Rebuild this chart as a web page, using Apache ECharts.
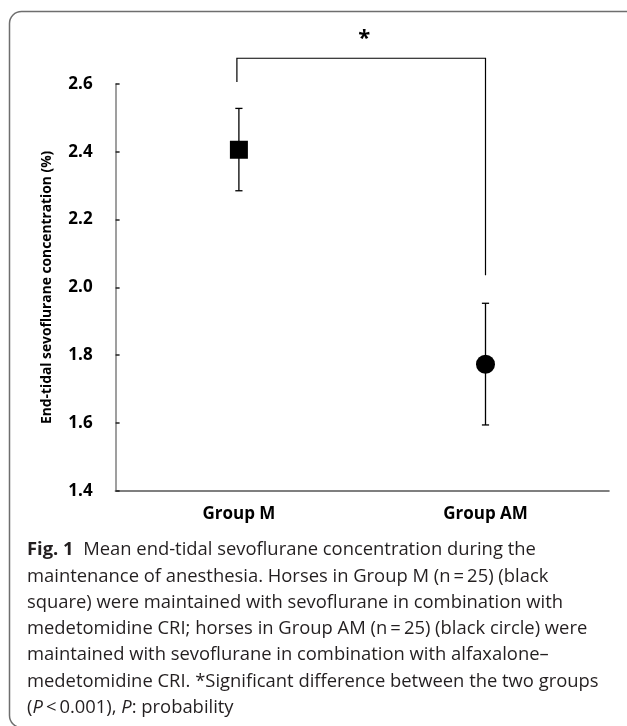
<!DOCTYPE html>
<html><head><meta charset="utf-8">
<script src="https://cdn.jsdelivr.net/npm/echarts@6/dist/echarts.min.js"></script>
<style>html,body{margin:0;padding:0;background:#fff}#c{width:627px;height:726px}</style>
</head><body><div id="c"></div>
<script>
// ---- data ----
const categories = ['Group M', 'Group AM'];
const means = [2.406, 1.773];
const upper = [2.528, 1.953];
const lower = [2.285, 1.594];
const markerShapes = ['rect', 'circle'];
const yMin = 1.4, yMax = 2.6, yStep = 0.2;
// significance bracket: [left foot, top bar, right foot], asterisk level
const bracketValues = [2.606, 2.676, 2.036];
const starValue = 2.745;
const yAxisTitle = 'End-tidal sevoflurane concentration (%)';
const captionLines = [
  '{b|Fig. 1}  Mean end-tidal sevoflurane concentration during the',
  'maintenance of anesthesia. Horses in Group M (n\u2009=\u200925) (black',
  'square) were maintained with sevoflurane in combination with',
  'medetomidine CRI; horses in Group AM (n\u2009=\u200925) (black circle) were',
  'maintained with sevoflurane in combination with alfaxalone\u2013',
  'medetomidine CRI. *Significant difference between the two groups',
  '({i|P}\u2009<\u20090.001), {i|P}: probability'
];

// ---- chart ----
const chart = echarts.init(document.getElementById('c'), null, {renderer: 'canvas'});
const capTop = 550, capStep = 26.3, capSize = 18.4;
const graphics = [{
  type: 'rect', z: 0, silent: true,
  shape: {x: 9.5, y: 11.5, width: 660, height: 716, r: 12},
  style: {fill: 'none', stroke: '#6e6e6e', lineWidth: 1.5}
}];
captionLines.forEach((t, i) => {
  graphics.push({
    type: 'text', x: 27, y: capTop + i * capStep, silent: true,
    style: {
      text: t, font: capSize + 'px "Open Sans"', fill: '#231f20',
      align: 'left', verticalAlign: 'middle',
      rich: {
        b: {fontWeight: 'bold', fontSize: capSize, fontFamily: 'Open Sans', fill: '#231f20'},
        i: {fontStyle: 'italic', fontSize: capSize, fontFamily: 'Open Sans', fill: '#231f20'}
      }
    }
  });
});

chart.setOption({
  animation: false,
  backgroundColor: '#fff',
  grid: {left: 115.6, right: 18.2, top: 84, bottom: 235.3, containLabel: false},
  xAxis: {
    type: 'category', data: categories, boundaryGap: true,
    axisLine: {lineStyle: {color: '#7f7f7f', width: 2}},
    axisTick: {show: false},
    axisLabel: {margin: 15, color: '#000', fontFamily: 'Open Sans', fontWeight: 'bold', fontSize: 17}
  },
  yAxis: {
    type: 'value', min: yMin, max: yMax, interval: yStep,
    name: yAxisTitle, nameLocation: 'middle', nameGap: 62,
    nameTextStyle: {color: '#000', fontFamily: 'Open Sans', fontWeight: 'bold', fontSize: 13.8},
    axisLine: {show: true, lineStyle: {color: '#7f7f7f', width: 1.5}},
    axisTick: {show: true, inside: true, length: 4, lineStyle: {color: '#222', width: 1.5}},
    splitLine: {show: false},
    axisLabel: {margin: 23, color: '#000', fontFamily: 'Open Sans', fontWeight: 'bold', fontSize: 17,
      formatter: v => v.toFixed(1)}
  },
  graphic: graphics,
  series: [
    {
      type: 'custom', name: 'error bars', z: 2, clip: false,
      data: categories.map((c, i) => [i, upper[i], lower[i]]),
      renderItem: (params, api) => {
        const x = api.value(0);
        const hi = api.coord([x, api.value(1)]);
        const lo = api.coord([x, api.value(2)]);
        const w = 3.6;
        const st = {stroke: '#000', lineWidth: 1.3};
        return {type: 'group', children: [
          {type: 'line', shape: {x1: hi[0], y1: hi[1], x2: lo[0], y2: lo[1]}, style: st},
          {type: 'line', shape: {x1: hi[0] - w, y1: hi[1], x2: hi[0] + w, y2: hi[1]}, style: st},
          {type: 'line', shape: {x1: lo[0] - w, y1: lo[1], x2: lo[0] + w, y2: lo[1]}, style: st}
        ]};
      }
    },
    {
      type: 'scatter', name: 'means', z: 3,
      data: categories.map((c, i) => ({
        value: [i, means[i]], symbol: markerShapes[i], symbolSize: i === 0 ? 18 : 19
      })),
      itemStyle: {color: '#000', opacity: 1}
    },
    {
      type: 'custom', name: 'bracket', z: 2, clip: false,
      data: [[0, 1]],
      renderItem: (params, api) => {
        const a = api.coord([0, bracketValues[0]]);
        const b = api.coord([0, bracketValues[1]]);
        const c = api.coord([1, bracketValues[1]]);
        const d = api.coord([1, bracketValues[2]]);
        const s = api.coord([0, starValue]);
        const e = api.coord([1, starValue]);
        return {type: 'group', children: [
          {type: 'polyline', shape: {points: [[a[0] - 2, a[1]], [b[0] - 2, b[1]], c, d]},
            style: {stroke: '#000', lineWidth: 1.2, fill: 'none'}},
          {type: 'text', x: (s[0] + e[0]) / 2 + 2, y: s[1] + 4,
            style: {text: '*', font: 'bold 22px "Open Sans"', fill: '#000', align: 'center', verticalAlign: 'middle'}}
        ]};
      }
    }
  ]
});
</script></body></html>
